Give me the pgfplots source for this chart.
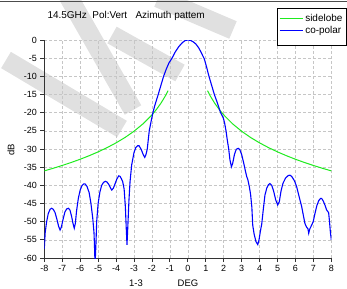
\documentclass[border=0pt]{standalone}
\usepackage{fontspec}
\setmainfont{Liberation Sans}
\usepackage{pgfplots}
\pgfplotsset{compat=1.18}
\definecolor{sidegreen}{RGB}{30,235,30}
\definecolor{copolblue}{RGB}{0,0,255}
\definecolor{wmark}{RGB}{224,224,224}
\begin{document}
\begin{tikzpicture}
\path[use as bounding box] (0,0) rectangle (347bp,-289bp);
\begin{scope}[wmark, line width=19bp]
\draw (6bp,-60bp) -- (122bp,-129bp);
\draw (68bp,4bp) -- (133bp,-110bp);
\draw (112bp,-35bp) -- (180bp,-73bp);
\draw (158bp,2bp) -- (233bp,-30bp);
\end{scope}
\draw[line width=1bp, black!70] (0,-1.5bp) -- (347bp,-1.5bp);
\begin{axis}[
  at={(44.3bp,-258bp)}, anchor=south west,
  scale only axis, width=287bp, height=218bp,
  xmin=-8, xmax=8, ymin=-60, ymax=0,
  xtick={-8,-7,...,8}, ytick={-60,-55,...,0},
  axis x line*=bottom, axis y line*=left,
  tick align=outside, major tick length=4bp,
  grid=major, grid style={densely dashed, gray!45, line width=0.5bp},
  tick label style={font=\fontsize{9}{10}\selectfont},
  /pgf/number format/assume math mode=true,
  axis line style={line width=0.8bp, black!80},
  tick style={line width=0.8bp, black!80},
  legend style={at={(0.81,1.145)}, anchor=north west, draw=black, line width=0.8bp, fill=white,
    font=\fontsize{10}{12}\selectfont, inner xsep=2bp, inner ysep=3bp, cells={anchor=west}},
  legend image code/.code={\draw[#1] (0bp,0bp) -- (23bp,0bp);},
  unbounded coords=jump,
]
\addplot[sidegreen, line width=1bp] coordinates {
(-8,-36.02) (-7.5,-35.30) (-7,-34.53) (-6.5,-33.71) (-6,-32.82) (-5.5,-31.85) (-5,-30.79)
(-4.5,-29.62) (-4,-28.31) (-3.5,-26.83) (-3,-25.11) (-2.5,-23.09) (-2,-20.61) (-1.75,-19.12)
(-1.5,-17.41) (-1.25,-15.38) (-1.1,-13.96)
(0,nan)
(1.1,-13.96) (1.25,-15.38) (1.5,-17.41) (1.75,-19.12) (2,-20.61) (2.5,-23.09) (3,-25.11)
(3.5,-26.83) (4,-28.31) (4.5,-29.62) (5,-30.79) (5.5,-31.85) (6,-32.82) (6.5,-33.71)
(7,-34.53) (7.5,-35.30) (8,-36.02)
};
\addlegendentry{sidelobe}
\addplot[copolblue, line width=1.1bp] coordinates {
(-8.00,-57.5) (-7.95,-53) (-7.87,-50) (-7.78,-47.8) (-7.68,-46.6) (-7.59,-46.3) (-7.50,-46.6)
(-7.40,-47.5) (-7.30,-49.3) (-7.20,-51.3) (-7.12,-52.3) (-7.05,-51.5) (-6.95,-49.3) (-6.85,-47.3)
(-6.75,-46.5) (-6.66,-46.3) (-6.57,-46.8) (-6.48,-48.5) (-6.40,-50.5) (-6.33,-51.8) (-6.27,-50.5)
(-6.20,-47) (-6.10,-43.5) (-6.00,-41.3) (-5.90,-40.1) (-5.80,-39.6) (-5.73,-39.6) (-5.62,-40.3)
(-5.50,-42) (-5.40,-45) (-5.30,-49) (-5.23,-53) (-5.20,-57) (-5.17,-62) (-5.12,-56) (-5.08,-50)
(-5.00,-45) (-4.90,-41.8) (-4.80,-40) (-4.70,-39.2) (-4.60,-38.9) (-4.50,-39.1) (-4.40,-39.8)
(-4.30,-40.8) (-4.24,-41.3) (-4.15,-40.8) (-4.05,-39.5) (-3.95,-38.2) (-3.85,-37.4) (-3.78,-37.5)
(-3.70,-38.2) (-3.63,-39.0) (-3.55,-41) (-3.48,-46) (-3.43,-52) (-3.39,-56.4) (-3.35,-52)
(-3.32,-48.6) (-3.28,-44) (-3.22,-39) (-3.13,-34.4) (-3.00,-31) (-2.90,-29.6) (-2.80,-29.1)
(-2.72,-29.1) (-2.60,-30.1) (-2.48,-31.6) (-2.40,-32.3) (-2.33,-31.5) (-2.26,-30) (-2.15,-25)
(-2.05,-22.5) (-1.96,-20.3) (-1.85,-18.2) (-1.65,-15) (-1.50,-12.5) (-1.35,-10) (-1.20,-8)
(-1.05,-6.3) (-0.88,-5) (-0.70,-3.3) (-0.50,-1.8) (-0.30,-0.7) (-0.15,-0.15) (0,0)
(0.15,-0.1) (0.30,-0.5) (0.45,-1.1) (0.60,-2.1) (0.70,-3.0) (0.80,-4.0) (0.92,-5.2)
(1.05,-7.5) (1.18,-10) (1.33,-12.5) (1.48,-15) (1.64,-17.2) (1.83,-20) (1.98,-21.5)
(2.05,-22.8) (2.13,-25) (2.20,-27.5) (2.28,-30) (2.35,-33) (2.43,-34.9) (2.50,-34)
(2.60,-31.5) (2.70,-30.1) (2.81,-29.8) (2.90,-30.2) (3.00,-31.5) (3.10,-33.5) (3.20,-35.8)
(3.28,-37.5) (3.35,-38.5) (3.43,-40.4) (3.50,-42.5) (3.57,-46) (3.62,-51) (3.70,-53.5)
(3.80,-55.5) (3.90,-56.3) (3.97,-55) (4.05,-52.5) (4.12,-50.7) (4.20,-47) (4.30,-42.7)
(4.40,-40.8) (4.50,-39.8) (4.58,-39.5) (4.68,-40) (4.78,-41.5) (4.90,-44) (5.01,-45.4)
(5.10,-44.5) (5.20,-41.5) (5.30,-39.5) (5.45,-38) (5.60,-37.3) (5.70,-37.2) (5.80,-37.6)
(5.95,-38.8) (6.07,-40.4) (6.20,-43) (6.35,-45.9) (6.45,-48.5) (6.53,-50.5) (6.62,-51.5)
(6.70,-52) (6.74,-53.2) (6.80,-52) (6.90,-51) (6.99,-50) (7.10,-47.5) (7.20,-45.5)
(7.30,-44.2) (7.40,-43.6) (7.46,-43.6) (7.55,-44.3) (7.65,-45.5) (7.74,-46.8) (7.85,-47.5)
(7.90,-50) (7.95,-53) (8.00,-55)
};
\addlegendentry{co-polar}
\addlegendimage{empty legend}
\addlegendentry{}
\end{axis}
\node[anchor=west, font=\fontsize{10}{12}\selectfont] at (44bp,-16bp) {14.5GHz\ \ Pol:Vert\ \ \ Azimuth pattem};
\node[rotate=90, font=\fontsize{9.5}{11}\selectfont] at (11bp,-150bp) {dB};
\node[font=\fontsize{9.5}{11}\selectfont] at (136bp,-283bp) {1-3};
\node[font=\fontsize{9.5}{11}\selectfont] at (188bp,-283bp) {DEG};
\end{tikzpicture}
\end{document}
